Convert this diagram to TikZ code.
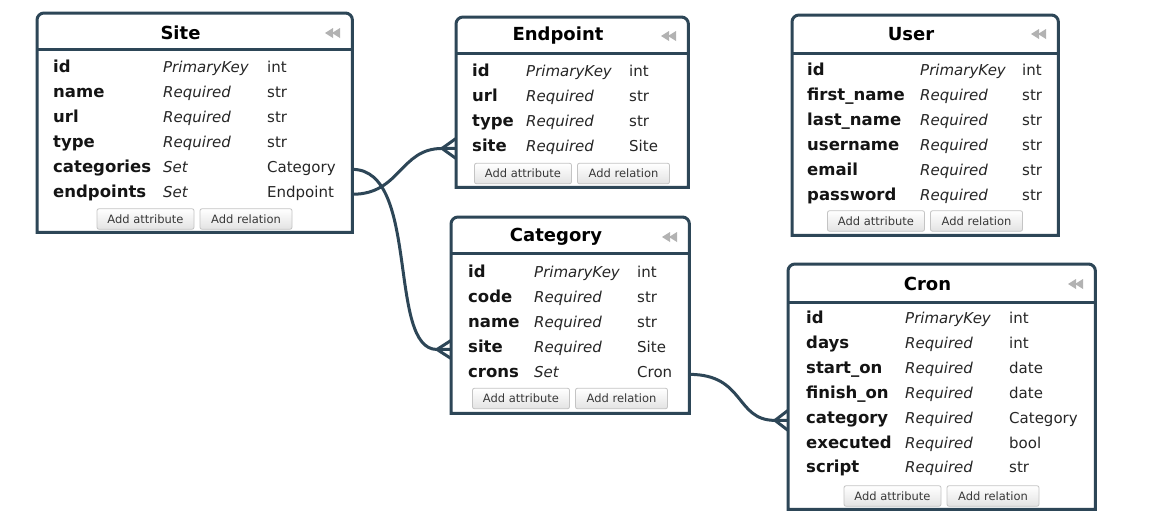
\documentclass[tikz,border=0pt]{standalone}
\usepackage{fontspec}
\setmainfont{DejaVu Sans}
\usetikzlibrary{calc}

\definecolor{erline}{HTML}{2D4657}
\definecolor{ericon}{HTML}{B2B2B2}
\definecolor{erbtnline}{HTML}{C4C4C4}
\definecolor{erbtntext}{HTML}{383838}

\tikzset{
  x=1pt, y=1pt,
  erframe/.style={draw=erline, line width=3pt, fill=white},
  ersep/.style={draw=erline, line width=3pt},
  erlink/.style={draw=erline, line width=3pt},
  ertitle/.style={inner sep=0pt, text=black, font=\bfseries\fontsize{18}{21}\selectfont},
  erkey/.style={anchor=base west, inner sep=0pt, text=black!92, font=\bfseries\fontsize{16.5}{19}\selectfont},
  erqual/.style={anchor=base west, inner sep=0pt, text=black!85, font=\itshape\fontsize{15}{18}\selectfont},
  ertype/.style={anchor=base west, inner sep=0pt, text=black!85, font=\fontsize{15}{18}\selectfont},
  erbtn/.style={draw=erbtnline, line width=0.8pt, rounded corners=2pt,
    top color=white, bottom color=black!11, minimum height=20.5pt, inner sep=0pt,
    text=erbtntext, font=\fontsize{11.5}{13}\selectfont},
}

% table frame: #1 name, #2 left, #3 top, #4 right, #5 bottom, #6 header rule, #7 title, #8 title y
\newcommand\ertable[8]{%
  \node[inner sep=0pt, minimum width={#4-#2}, minimum height={#5-#3}, anchor=north west] (#1) at (#2,-#3) {};
  \draw[erframe] (#1.south west) -- ([yshift=-7pt]#1.north west)
    arc[start angle=180, end angle=90, radius=7pt] -- ([xshift=-7pt]#1.north east)
    arc[start angle=90, end angle=0, radius=7pt] -- (#1.south east) -- cycle;
  \draw[ersep] (#2,-#6) -- (#4,-#6);
  \node[ertitle] (#1-title) at ({(#2+#4-28)/2}, -#8) {#7};
  \fill[ericon] ({#4-27},-#8) -- ({#4-19},{-#8+5}) -- ({#4-19},{-#8-5}) -- cycle;
  \fill[ericon] ({#4-20},-#8) -- ({#4-12},{-#8+5}) -- ({#4-12},{-#8-5}) -- cycle;
}

% attribute rows: #1 table, #2-#4 column x, #5 first row centre, #6 list
\newcommand\errows[6]{%
  \foreach \a/\b/\c [count=\i] in {#6} {
    \node[erkey]  (#1-\i)  at (#2, {-(#5+5.5+24.9*(\i-1))}) {\a};
    \node[erqual] (#1-\i q) at (#3, {-(#5+5.5+24.9*(\i-1))}) {\b};
    \node[ertype] (#1-\i t) at (#4, {-(#5+5.5+24.9*(\i-1))}) {\c};
  }
}

% button pair: #1 table, #2 centre x, #3 centre y
\newcommand\erbuttons[3]{%
  \node[erbtn, minimum width=97pt] (#1-addattr) at ({#2-49}, -#3) {Add attribute};
  \node[erbtn, minimum width=92pt] (#1-addrel)  at ({#2+51.5}, -#3) {Add relation};
}

\begin{document}
\begin{tikzpicture}
\fill[white] (0,0) rectangle (1169,-515);
\useasboundingbox (0,0) rectangle (1169,-515);

% Site
\ertable{site}{37}{13}{352}{232}{49}{Site}{33}
\errows{site}{53}{163}{267}{67}{id/PrimaryKey/int, name/Required/str, url/Required/str,
  type/Required/str, categories/Set/Category, endpoints/Set/Endpoint}
\erbuttons{site}{194.5}{219}

% Endpoint
\ertable{endpoint}{456}{17}{688}{187}{53}{Endpoint}{36}
\errows{endpoint}{472}{526}{629}{71}{id/PrimaryKey/int, url/Required/str,
  type/Required/str, site/Required/Site}
\erbuttons{endpoint}{572}{173.5}

% User
\ertable{user}{792}{15}{1058}{235}{53}{User}{34}
\errows{user}{807}{920}{1022}{70}{id/PrimaryKey/int, first\_name/Required/str,
  last\_name/Required/str, username/Required/str, email/Required/str, password/Required/str}
\erbuttons{user}{925}{221}

% Category
\ertable{category}{451}{217}{689}{413}{253}{Category}{237}
\errows{category}{468}{534}{637}{272}{id/PrimaryKey/int, code/Required/str,
  name/Required/str, site/Required/Site, crons/Set/Cron}
\erbuttons{category}{570}{398.5}

% Cron
\ertable{cron}{788}{264}{1095}{509}{302}{Cron}{284}
\errows{cron}{806}{905}{1009}{318}{id/PrimaryKey/int, days/Required/int,
  start\_on/Required/date, finish\_on/Required/date, category/Required/Category,
  executed/Required/bool, script/Required/str}
\erbuttons{cron}{941.5}{496}

% relations with crow's feet on the many side
\coordinate (sc0) at (site.east |- site-5.mid);
\coordinate (sc1) at (category.west |- category-4.mid);
\coordinate (sc2) at ($(sc1)+(-14,0)$);
\draw[erlink] (sc0) .. controls +(68,0) and +(-50,0) .. (sc2) -- (sc1);
\draw[erlink] ($(sc1)+(0,9)$) -- (sc2) -- ($(sc1)+(0,-9)$);

\coordinate (se0) at (site.east |- site-6.mid);
\coordinate (se1) at (endpoint.west |- endpoint-4.mid);
\coordinate (se2) at ($(se1)+(-14,0)$);
\draw[erlink] (se0) .. controls +(48,0) and +(-42,0) .. (se2) -- (se1);
\draw[erlink] ($(se1)+(0,10)$) -- (se2) -- ($(se1)+(0,-10)$);

\coordinate (cc0) at (category.east |- category-5.mid);
\coordinate (cc1) at (cron.west |- cron-5.mid);
\coordinate (cc2) at ($(cc1)+(-13,0)$);
\draw[erlink] (cc0) .. controls +(56,0) and +(-40,0) .. (cc2) -- (cc1);
\draw[erlink] ($(cc1)+(0,10)$) -- (cc2) -- ($(cc1)+(0,-10)$);
\end{tikzpicture}
\end{document}
